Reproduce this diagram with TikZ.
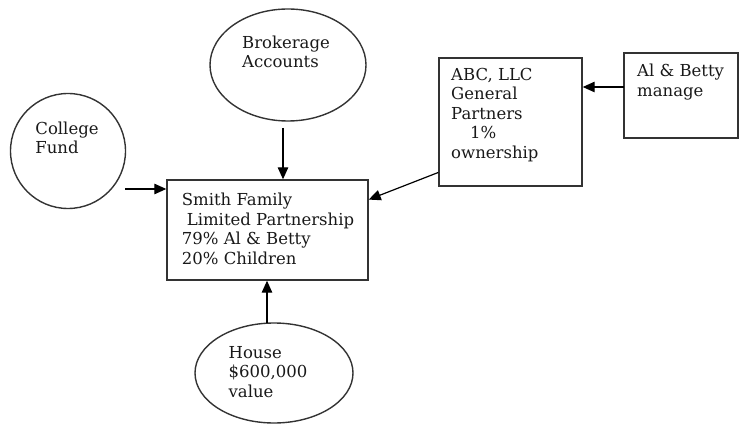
\documentclass[tikz,border=0pt]{standalone}
\usepackage{fontspec}
\setmainfont{DejaVu Serif}
\usetikzlibrary{arrows.meta,calc,shapes.geometric}
\tikzset{
  shapebox/.style={draw=black!80, line width=1.4pt, inner sep=0pt},
  txt/.style={align=left, inner sep=0pt, font=\fontsize{16.5}{19.5}\selectfont, text=black!90},
  arr/.style={line width=1.2pt, -{Triangle[length=12pt,width=10.5pt]}}
}
\begin{document}
\begin{tikzpicture}[x=1pt,y=-1pt]
\useasboundingbox (0,0) rectangle (743,427);

% shapes
\node[shapebox, circle, minimum size=115pt] (college) at (68,151) {};
\node[shapebox, ellipse, minimum width=156pt, minimum height=112pt] (broker) at (288,65) {};
\node[shapebox, ellipse, minimum width=158pt, minimum height=100pt] (house) at (274,373) {};
\node[shapebox, rectangle, minimum width=201pt, minimum height=100pt] (smith) at (267.5,230) {};
\node[shapebox, rectangle, minimum width=143pt, minimum height=128pt] (abc) at (510.5,122) {};
\node[shapebox, rectangle, minimum width=114pt, minimum height=85pt] (al) at (681,95.5) {};

% texts
\node[txt] (collegetxt) at (67,138) {College\\Fund};
\node[txt] (brokertxt) at (286,52) {Brokerage\\Accounts};
\node[txt] (housetxt) at (268,372) {House\\\$600,000\\value};
\node[txt] (smithtxt) at (268,229) {Smith Family\\\hspace{5pt}Limited Partnership\\79\% Al \& Betty\\20\% Children};
\node[txt, anchor=north west] (abctxt) at (451,68) {ABC, LLC\\General\\Partners\\\hspace{19pt}1\%\\ownership};
\node[txt, anchor=north west] (altxt) at (637,64) {Al \& Betty\\manage};

% connectors
\coordinate (cf) at (125,189);
\draw[arr] (cf) -- (cf -| smith.west);
\coordinate (bk) at (283,128);
\draw[arr] (bk) -- (bk |- smith.north);
\coordinate (hs) at (267,323);
\draw[arr] (hs) -- (hs |- smith.south);
\draw[arr] ($(abc.north west)!0.89!(abc.south west)$) -- ($(smith.north east)!0.2!(smith.south east)$);
\coordinate (ab) at (624,87);
\draw[arr] (ab) -- (ab -| abc.east);
\end{tikzpicture}
\end{document}
